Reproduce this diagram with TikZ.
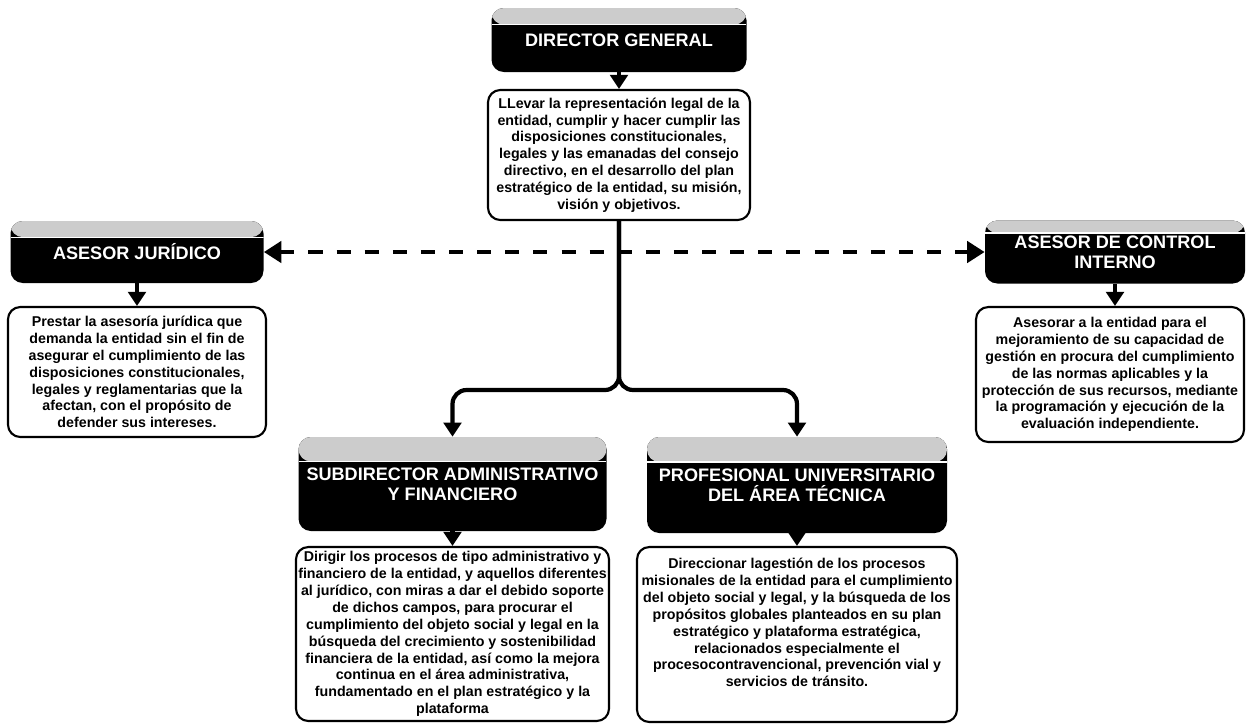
\documentclass[tikz,border=0pt]{standalone}
\usepackage{fontspec}
\setmainfont{Liberation Sans}
\usetikzlibrary{arrows.meta,calc}

\tikzset{
	cargo/.style={fill=black, rounded corners=7pt, text=white, font=\fontsize{10.3}{11.6}\selectfont\bfseries, align=center, inner sep=1pt,
		path picture={\coordinate (banda) at ($(path picture bounding box.north west)!#1!(path picture bounding box.south west)$);
			\fill[gray!40] (path picture bounding box.north west) rectangle (banda -| path picture bounding box.east);
			\draw[white, line width=0.7pt] (banda) -- (banda -| path picture bounding box.east);}},
	cargo/.default=0.26,
	funcion/.style={draw, fill=white, rounded corners=7pt, line width=1.2pt, align=center, font=\fontsize{8.1}{9.6}\selectfont\bfseries, inner sep=1pt},
	flecha/.style={line width=2.4pt, -{Triangle[width=10pt, length=8pt]}},
	asesoria/.style={line width=2.6pt, dash pattern=on 8pt off 8pt, {Triangle[width=12pt, length=10pt]}-{Triangle[width=12pt, length=10pt]}}
}

\begin{document}
\begin{tikzpicture}
			\useasboundingbox (0,0) rectangle (25.06,-14.48);
			
			\node[cargo, minimum width=5.10cm, minimum height=1.28cm] (dg) at (12.38,-0.80) {DIRECTOR GENERAL};
			\node[funcion, minimum width=5.24cm, minimum height=2.60cm] (dgfun) at (12.38,-3.10) {LLevar la representación legal de la\\entidad, cumplir y hacer cumplir las\\disposiciones constitucionales,\\legales y las emanadas del consejo\\directivo, en el desarrollo del plan\\estratégico de la entidad, su misión,\\visión y objetivos.};
			
			\node[cargo, minimum width=5.06cm, minimum height=1.24cm] (aj) at (2.74,-5.04) {ASESOR JURÍDICO};
			\node[funcion, minimum width=5.16cm, minimum height=2.60cm] (ajfun) at (2.74,-7.44) {Prestar la asesoría jurídica que\\demanda la entidad sin el fin de\\asegurar el cumplimiento de las\\disposiciones constitucionales,\\legales y reglamentarias que la\\afectan, con el propósito de\\defender sus intereses.};
			
			\node[cargo=0.2, minimum width=5.20cm, minimum height=1.26cm] (aci) at (22.30,-5.04) {ASESOR DE CONTROL\\INTERNO};
			\node[funcion, minimum width=5.36cm, minimum height=2.70cm] (acifun) at (22.20,-7.49) {Asesorar a la entidad para el\\mejoramiento de su capacidad de\\gestión en procura del cumplimiento\\de las normas aplicables y la\\protección de sus recursos, mediante\\la programación y ejecución de la\\evaluación independiente.};
			
			\node[cargo, minimum width=6.16cm, minimum height=1.88cm] (sub) at (9.05,-9.68) {SUBDIRECTOR ADMINISTRATIVO\\Y FINANCIERO};
			\node[funcion, minimum width=6.26cm, minimum height=3.48cm] (subfun) at (9.05,-12.68) {Dirigir los procesos de tipo administrativo y\\financiero de la entidad, y aquellos diferentes\\al jurídico, con miras a dar el debido soporte\\de dichos campos, para procurar el\\cumplimiento del objeto social y legal en la\\búsqueda del crecimiento y sostenibilidad\\financiera de la entidad, así como la mejora\\continua en el área administrativa,\\fundamentado en el plan estratégico y la\\plataforma};
			
			\node[cargo, minimum width=6.00cm, minimum height=1.92cm] (pu) at (15.94,-9.70) {PROFESIONAL UNIVERSITARIO\\DEL ÁREA TÉCNICA};
			\node[funcion, minimum width=6.40cm, minimum height=3.50cm] (pufun) at (15.94,-12.69) {Direccionar lagestión de los procesos\\misionales de la entidad para el cumplimiento\\del objeto social y legal, y la búsqueda de los\\propósitos globales planteados en su plan\\estratégico y plataforma estratégica,\\relacionados especialmente el\\procesocontravencional, prevención vial y\\servicios de tránsito.\\[4pt]\mbox{}};
			
			\coordinate (rama) at (12.38,-7.80);
			
			\draw[flecha] (dg) -- (dgfun);
			\draw[flecha] (aj) -- (ajfun);
			\draw[flecha] (aci.south) -- (aci.south |- acifun.north);
			\draw[flecha] (sub) -- (subfun);
			\draw[flecha] (pu) -- (pufun);
			\draw[flecha, rounded corners=8pt] (dgfun.south) -- (rama) -| (sub.north);
			\draw[flecha, rounded corners=8pt] (dgfun.south) -- (rama) -| (pu.north);
			\draw[asesoria] (aj.east) -- (aci.west);
		\end{tikzpicture}
\end{document}
